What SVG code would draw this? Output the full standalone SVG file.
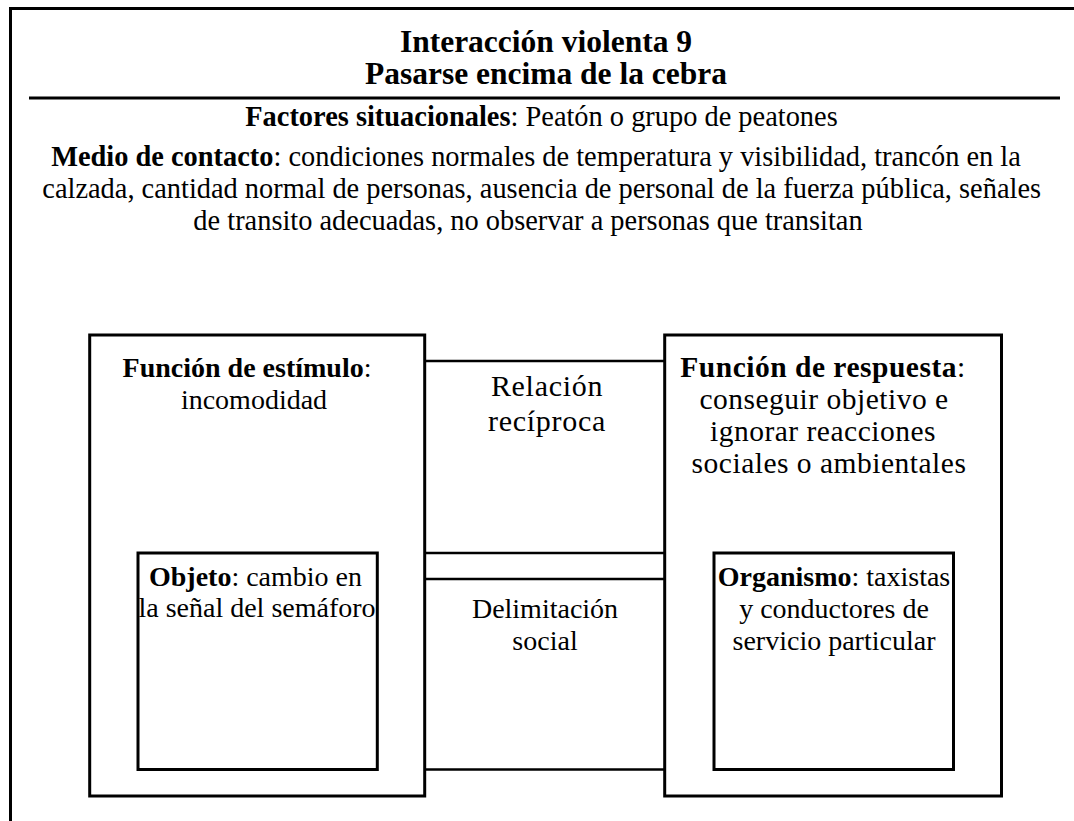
<svg xmlns="http://www.w3.org/2000/svg" width="1074" height="821" viewBox="0 0 1074 821">
<style>
text{font-family:"Liberation Serif","Times New Roman",serif;fill:#000;text-anchor:middle}
.t{font-size:31.5px;font-weight:bold}
.p{font-size:28.4px}
.b{font-size:28px}
.w{font-size:29.5px;letter-spacing:0.5px}
.r{font-size:30px;letter-spacing:0.7px}
.bold{font-weight:bold}
.box{fill:#fff;stroke:#000;stroke-width:3}
.ln{stroke:#000;stroke-width:3;fill:none}
.cn{stroke:#000;stroke-width:2.5;fill:none}
</style>
<rect width="1074" height="821" fill="#fff"/>
<g id="frame">
<path class="ln" d="M10.5,821 V8.5 H1074"/>
<line class="ln" x1="29" y1="98" x2="1060" y2="98"/>
</g>
<g id="title">
<text class="t" x="546" y="52">Interacción violenta 9</text>
<text class="t" x="546" y="84">Pasarse encima de la cebra</text>
</g>
<g id="context">
<text class="p" x="541.5" y="126"><tspan class="bold">Factores situacionales</tspan>: Peatón o grupo de peatones</text>
<text class="p" x="536" y="166"><tspan class="bold">Medio de contacto</tspan>: condiciones normales de temperatura y visibilidad, trancón en la</text>
<text class="p" x="541.7" y="198">calzada, cantidad normal de personas, ausencia de personal de la fuerza pública, señales</text>
<text class="p" x="528" y="230">de transito adecuadas, no observar a personas que transitan</text>
</g>
<g id="connectors">
<line class="cn" x1="424.7" y1="361" x2="664.7" y2="361"/>
<line class="cn" x1="424.7" y1="553" x2="664.7" y2="553"/>
<line class="cn" x1="424.7" y1="579" x2="664.7" y2="579"/>
<line class="cn" x1="424.7" y1="769.5" x2="664.7" y2="769.5"/>
<text class="r" x="547" y="396">Relación</text>
<text class="r" x="547" y="431">recíproca</text>
<text class="b" x="545" y="618">Delimitación</text>
<text class="b" x="545" y="650">social</text>
</g>
<g id="estimulo">
<rect class="box" x="89.7" y="335" width="335" height="461"/>
<text class="b" x="247" y="377"><tspan class="bold">Función de estímulo</tspan>:</text>
<text class="b" x="254" y="409">incomodidad</text>
</g>
<g id="objeto">
<rect class="box" x="138" y="553" width="239.3" height="216.5"/>
<text class="b" x="255.5" y="586"><tspan class="bold">Objeto</tspan>: cambio en</text>
<text class="b" x="257" y="617">la señal del semáforo</text>
</g>
<g id="respuesta">
<rect class="box" x="664.7" y="335" width="336.8" height="461"/>
<text class="w" x="823" y="377"><tspan class="bold">Función de respuesta</tspan>:</text>
<text class="w" x="824" y="409">conseguir objetivo e</text>
<text class="w" x="823" y="441">ignorar reacciones</text>
<text class="w" x="829" y="473">sociales o ambientales</text>
</g>
<g id="organismo">
<rect class="box" x="714" y="553" width="239.5" height="216.5"/>
<text class="b" x="834" y="586"><tspan class="bold">Organismo</tspan>: taxistas</text>
<text class="b" x="834" y="618">y conductores de</text>
<text class="b" x="834" y="650">servicio particular</text>
</g>
</svg>
